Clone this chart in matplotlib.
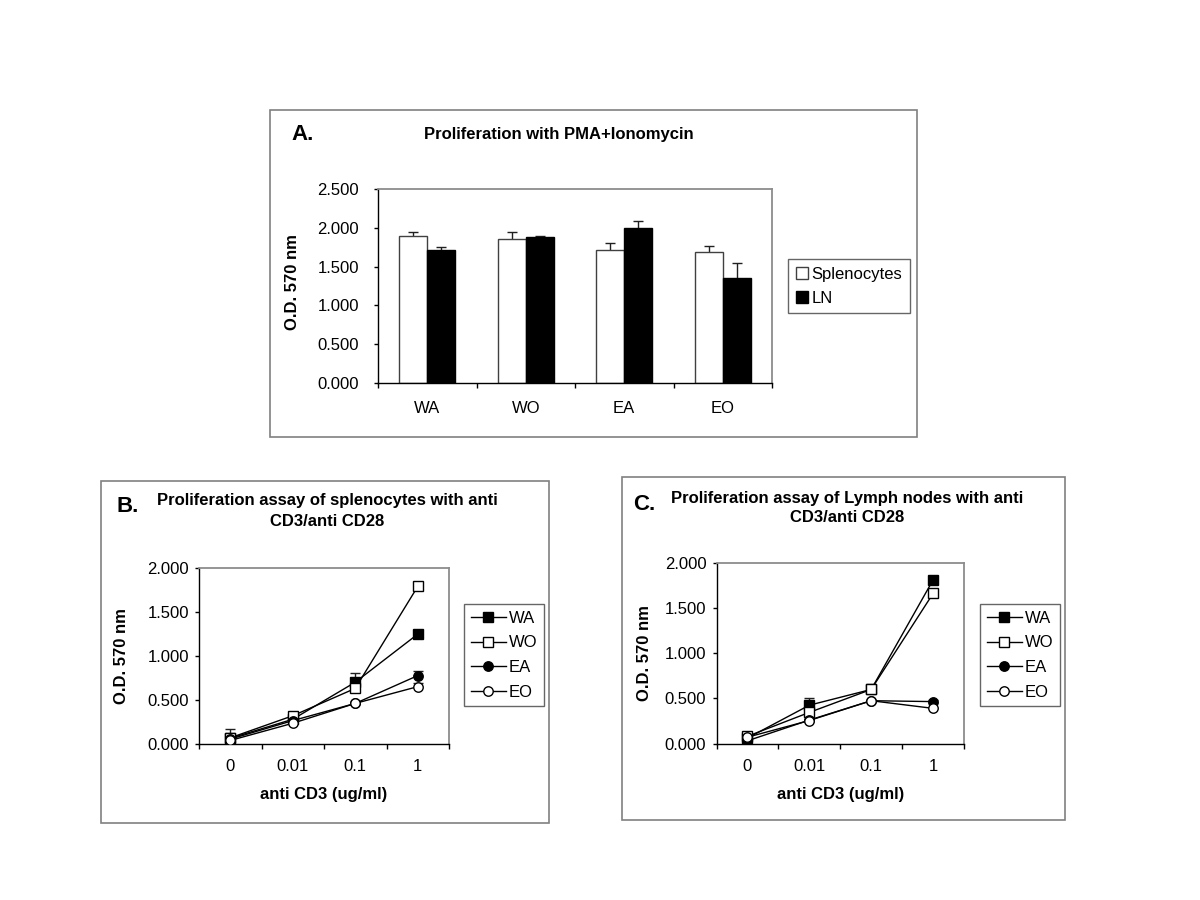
import numpy as np
import matplotlib
matplotlib.use("Agg")
import matplotlib.pyplot as plt
from matplotlib.patches import Rectangle
from matplotlib.ticker import FixedLocator

plt.rcParams['font.family'] = ['Liberation Sans', 'DejaVu Sans']

# ---------------- data ----------------
groups = ['WA', 'WO', 'EA', 'EO']
spl = [1.89, 1.86, 1.72, 1.69]
spl_err = [0.05, 0.08, 0.08, 0.08]
ln = [1.72, 1.88, 2.00, 1.35]
ln_err = [0.03, 0.02, 0.09, 0.20]

doses = ['0', '0.01', '0.1', '1']
series = ['WA', 'WO', 'EA', 'EO']

B_WA = [0.065, 0.28, 0.70, 1.245]
B_WO = [0.07, 0.32, 0.63, 1.785]
B_EA = [0.055, 0.265, 0.46, 0.775]
B_EO = [0.04, 0.235, 0.46, 0.65]
B_WA_err = [0.10, 0.0, 0.10, 0.025]
B_WO_err = [0.0, 0.0, 0.0, 0.0]
B_EA_err = [0.0, 0.0, 0.0, 0.05]
B_EO_err = [0.0, 0.0, 0.0, 0.04]

C_WA = [0.06, 0.425, 0.60, 1.815]
C_WO = [0.08, 0.345, 0.60, 1.665]
C_EA = [0.03, 0.26, 0.475, 0.465]
C_EO = [0.07, 0.255, 0.475, 0.39]
C_WA_err = [0.0, 0.08, 0.0, 0.0]
C_WO_err = [0.0, 0.0, 0.0, 0.0]
C_EA_err = [0.0, 0.0, 0.0, 0.02]
C_EO_err = [0.0, 0.0, 0.0, 0.0]

# ---------------- figure ----------------
W, H = 1200, 900
fig = plt.figure(figsize=(12, 9), dpi=100)
fig.patch.set_facecolor('white')

FS = 12      # tick / legend font size
FSB = 12     # bold title / label size


def fx(px):
    return px / W


def fy(py):
    return 1 - py / H


def axes_px(l, t, r, b):
    return fig.add_axes([fx(l), fy(b), (r - l) / W, (b - t) / H])


def frame(l, t, r, b):
    fig.add_artist(Rectangle((fx(l), fy(b)), (r - l) / W, (b - t) / H,
                             transform=fig.transFigure, fill=False,
                             edgecolor='#808080', linewidth=1.2))


def style_axes(ax, ymax, ystep, ypad, xpad):
    ax.set_xlim(-0.5, 3.5)
    ax.set_ylim(0, ymax)
    ticks = np.arange(0, ymax + 1e-9, ystep)
    ax.set_yticks(ticks)
    ax.set_yticklabels(['%.3f' % v for v in ticks])
    ax.set_xticks(range(4))
    ax.xaxis.set_minor_locator(FixedLocator(np.arange(-0.5, 3.6, 1.0)))
    ax.tick_params(axis='x', which='major', length=0, labelsize=FS, pad=xpad)
    ax.tick_params(axis='x', which='minor', length=3.5, direction='out', width=1)
    ax.tick_params(axis='y', length=3, direction='out', width=1, labelsize=FS, pad=ypad)
    for s in ['left', 'bottom']:
        ax.spines[s].set_color('black')
        ax.spines[s].set_linewidth(1)
    for s in ['top', 'right']:
        ax.spines[s].set_color('#8c8c8c')
        ax.spines[s].set_linewidth(1.3)
    ax.set_facecolor('white')


def up_errorbar(ax, x, y, err, capsize=3.6, zorder=1.5):
    lower = [0.0] * len(err)
    eb = ax.errorbar(x, y, yerr=[lower, err], fmt='none', ecolor='#202020',
                     elinewidth=1, capsize=capsize, capthick=1, zorder=zorder)
    caps = eb[1]
    if len(caps) >= 2:
        caps[0].set_visible(False)
    return eb


# ---------------- Panel A ----------------
frame(270, 110, 917, 437)
axA = axes_px(378, 189, 772, 383)
style_axes(axA, 2.5, 0.5, ypad=10.5, xpad=13)
axA.set_xticklabels(groups)
x = np.arange(len(groups))
bw = 0.285
axA.bar(x - bw / 2, spl, width=bw, color='white', edgecolor='#404040', linewidth=1,
        label='Splenocytes', zorder=2)
axA.bar(x + bw / 2, ln, width=bw, color='black', edgecolor='black', linewidth=1,
        label='LN', zorder=2)
up_errorbar(axA, x - bw / 2, spl, spl_err, zorder=1.5)
up_errorbar(axA, x + bw / 2, ln, ln_err, zorder=1.5)
axA.set_ylabel('O.D. 570 nm', fontsize=FSB, fontweight='bold')
axA.yaxis.set_label_coords((300 - 378) / 394, 0.52)
legA = axA.legend(loc='upper left', bbox_to_anchor=(fx(788), fy(259)),
                  bbox_transform=fig.transFigure, borderaxespad=0,
                  fancybox=False, frameon=True, fontsize=FS,
                  handlelength=0.75, handleheight=0.75, handletextpad=0.2,
                  labelspacing=0.55, borderpad=0.45)
legA.get_frame().set_edgecolor('#404040')
legA.get_frame().set_linewidth(1)

fig.text(fx(291), fy(140), 'A.', fontsize=16, fontweight='bold', ha='left', va='baseline')
fig.text(fx(559), fy(134), 'Proliferation with PMA+Ionomycin', fontsize=FSB,
         fontweight='bold', ha='center', va='center')

# ---------------- line panels ----------------
styles = {
    'WA': dict(marker='s', mfc='black', mec='black'),
    'WO': dict(marker='s', mfc='white', mec='black'),
    'EA': dict(marker='o', mfc='black', mec='black'),
    'EO': dict(marker='o', mfc='white', mec='black'),
}


def line_panel(box, axbox, data, errs, title_lines, letter, letter_pos, title_x,
               title_y, ylab_x, leg_pos):
    frame(*box)
    ax = axes_px(*axbox)
    style_axes(ax, 2.0, 0.5, ypad=4.3, xpad=11)
    ax.set_xticklabels(doses)
    xx = np.arange(len(doses))
    for name in series:
        up_errorbar(ax, xx, data[name], errs[name], capsize=3.6, zorder=1.5)
    for name in series:
        ax.plot(xx, data[name], color='black', linewidth=1, markersize=6.8,
                markeredgewidth=1, label=name, zorder=3, **styles[name])
    ax.set_ylabel('O.D. 570 nm', fontsize=FSB, fontweight='bold')
    ax.yaxis.set_label_coords((ylab_x - axbox[0]) / (axbox[2] - axbox[0]), 0.5)
    ax.set_xlabel('anti CD3 (ug/ml)', fontsize=FSB, fontweight='bold', labelpad=9.5)
    leg = ax.legend(loc='upper left', bbox_to_anchor=(fx(leg_pos[0]), fy(leg_pos[1])),
                    bbox_transform=fig.transFigure, borderaxespad=0,
                    fancybox=False, frameon=True, fontsize=FS,
                    handlelength=2.1, handletextpad=0.2, labelspacing=0.58,
                    borderpad=0.4)
    leg.get_frame().set_edgecolor('#404040')
    leg.get_frame().set_linewidth(1)
    fig.text(fx(letter_pos[0]), fy(letter_pos[1]), letter, fontsize=16,
             fontweight='bold', ha='left', va='baseline')
    fig.text(fx(title_x), fy(title_y[0]), title_lines[0], fontsize=FSB,
             fontweight='bold', ha='center', va='center')
    fig.text(fx(title_x), fy(title_y[1]), title_lines[1], fontsize=FSB,
             fontweight='bold', ha='center', va='center')
    return ax


line_panel((101, 481, 549, 823), (199, 567.5, 449, 744),
           {'WA': B_WA, 'WO': B_WO, 'EA': B_EA, 'EO': B_EO},
           {'WA': B_WA_err, 'WO': B_WO_err, 'EA': B_EA_err, 'EO': B_EO_err},
           ['Proliferation assay of splenocytes with anti', 'CD3/anti CD28'],
           'B.', (117, 512), 327, (501, 521), 129, (464, 604))

line_panel((622, 477, 1065, 820), (716.5, 563.3, 964, 743.5),
           {'WA': C_WA, 'WO': C_WO, 'EA': C_EA, 'EO': C_EO},
           {'WA': C_WA_err, 'WO': C_WO_err, 'EA': C_EA_err, 'EO': C_EO_err},
           ['Proliferation assay of Lymph nodes with anti', 'CD3/anti CD28'],
           'C.', (633, 510), 847, (498, 518), 652, (980, 604))

fig.savefig('out.png', dpi=100, facecolor='white')
